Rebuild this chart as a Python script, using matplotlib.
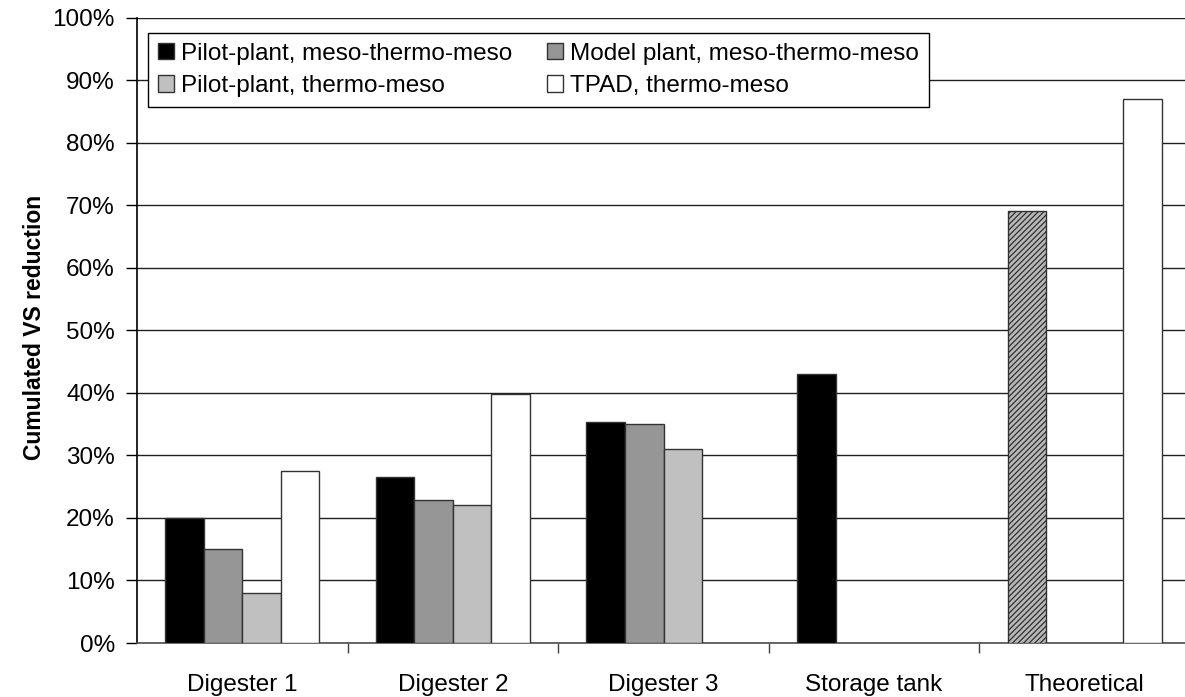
import numpy as np
import matplotlib
matplotlib.use("Agg")
import matplotlib.pyplot as plt
from matplotlib.ticker import PercentFormatter, FixedLocator

plt.rcParams['font.family'] = ['Liberation Sans', 'DejaVu Sans']
plt.rcParams['hatch.linewidth'] = 0.9

categories = ['Digester 1', 'Digester 2', 'Digester 3', 'Storage tank', 'Theoretical']
series_names = ['Pilot-plant, meso-thermo-meso', 'Model plant, meso-thermo-meso',
                'Pilot-plant, thermo-meso', 'TPAD, thermo-meso']
pilot_mtm = [0.20, 0.266, 0.353, 0.43, np.nan]
model_mtm = [0.15, 0.228, 0.350, np.nan, np.nan]
pilot_tm = [0.08, 0.220, 0.310, np.nan, np.nan]
tpad_tm = [0.275, 0.398, np.nan, np.nan, 0.87]
theoretical_mtm = 0.69  # hatched bar, theoretical meso-thermo-meso

colors = ['#000000', '#969696', '#c0c0c0', '#ffffff']

fig = plt.figure(figsize=(11.85, 6.97), dpi=100)
ax = fig.add_axes([137/1185, 54/697, 1053/1185, 625.5/697])

x = np.arange(len(categories))
w = 0.183
offsets = np.array([-1.5, -0.5, 0.5, 1.5]) * w

handles = []
for vals, col, off, name in zip([pilot_mtm, model_mtm, pilot_tm, tpad_tm], colors, offsets, series_names):
    b = ax.bar(x + off, vals, width=w, color=col, edgecolor='#333333', linewidth=1.0,
               label=name, zorder=3)
    handles.append(b)

# theoretical value for the meso-thermo-meso line, drawn hatched
ax.bar(x[4] + offsets[0], theoretical_mtm, width=w, color='#b8b8b8', edgecolor='#303030',
       hatch='//////', linewidth=1.0, zorder=3)

ax.set_xlim(-0.5, 4.5)
ax.set_ylim(0, 1.0)
ax.yaxis.set_major_locator(FixedLocator(np.arange(0, 1.01, 0.1)))
ax.yaxis.set_major_formatter(PercentFormatter(1.0, decimals=0))
ax.grid(axis='y', color='#202020', linewidth=1.0, zorder=0)

ax.set_xticks(x)
ax.set_xticklabels(categories)
ax.set_xticks(np.arange(0.5, 4.5, 1.0), minor=True)
ax.tick_params(axis='x', which='major', length=0, pad=22, labelsize=17.5)
ax.tick_params(axis='x', which='minor', length=7, width=1, color='#404040', direction='out')
ax.tick_params(axis='y', length=8, width=1, direction='out', labelsize=17.5, pad=8)

for s in ['top', 'right']:
    ax.spines[s].set_visible(False)
ax.spines['left'].set_color('#000000')
ax.spines['bottom'].set_color('#505050')
ax.spines['left'].set_linewidth(1.2)
ax.spines['bottom'].set_linewidth(1.2)

ax.set_ylabel('Cumulated VS reduction', fontsize=16.5, fontweight='bold')
ax.yaxis.set_label_coords((46 - 137) / 1053, 0.505)

# legend is filled row by row in the reference
order = [0, 2, 1, 3]
leg = ax.legend(handles=[handles[i] for i in order], ncol=2, loc='upper left',
                bbox_to_anchor=(11/1053, (643-33)/625.5 - 0.2, 781/1053, 0.2),
                mode='expand', fontsize=17.5, handlelength=0.65, handleheight=0.65,
                handletextpad=0.3, borderaxespad=0, frameon=True, fancybox=False,
                framealpha=1, edgecolor='#000000', labelspacing=0.42, borderpad=0.4)
leg.get_frame().set_linewidth(1.0)
leg.set_zorder(5)

fig.savefig('out.png', dpi=100)
